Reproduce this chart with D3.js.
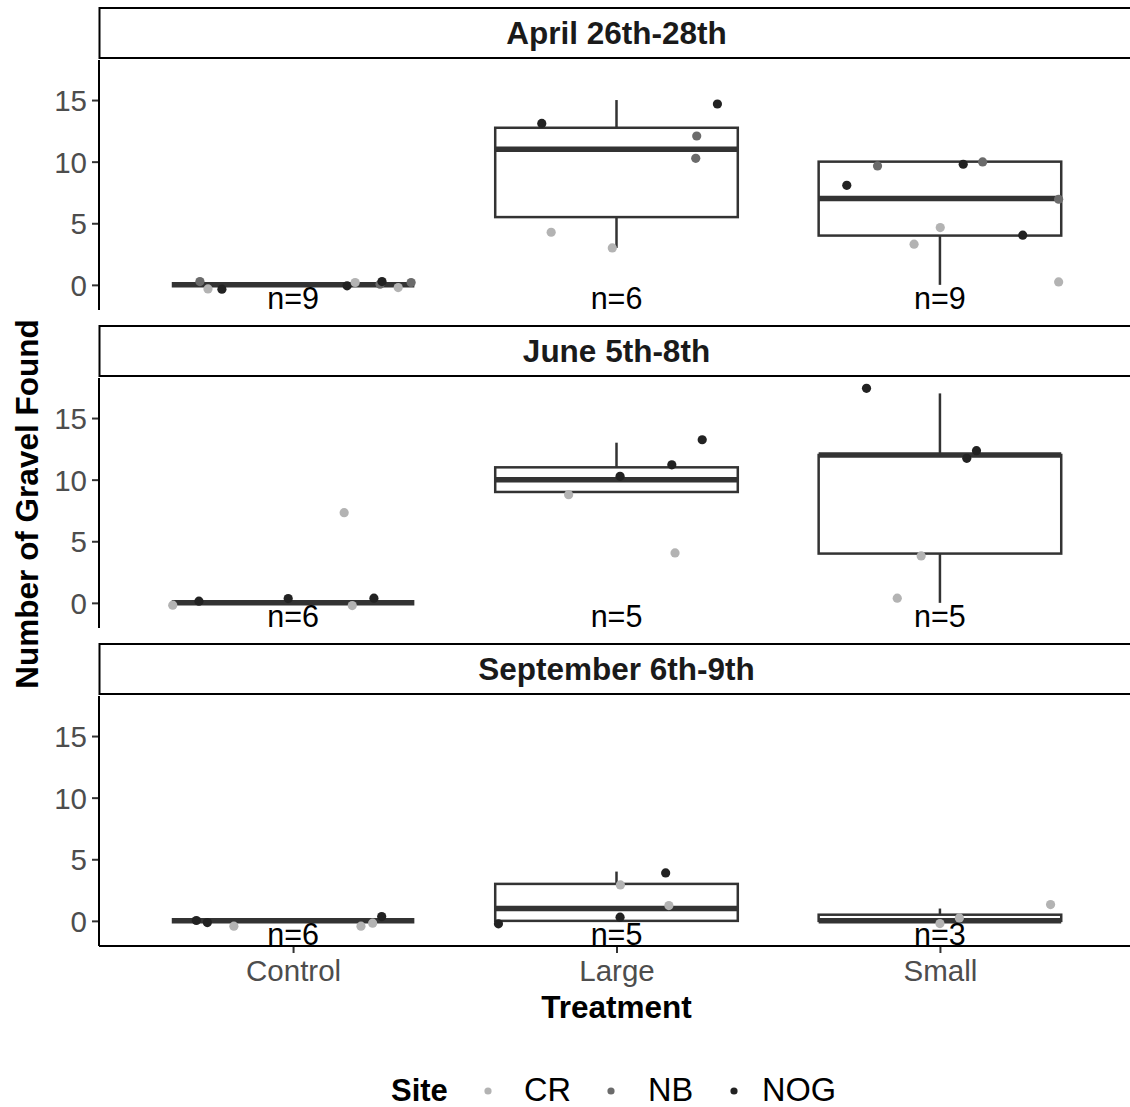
<!DOCTYPE html>
<html><head><meta charset="utf-8">
<script src="https://cdn.jsdelivr.net/npm/d3@7"></script>
<style>body{margin:0;background:#fff} svg{display:block} text{font-family:"Liberation Sans",Arial,Helvetica,sans-serif}</style>
</head><body><svg id="chart" width="1130" height="1107"></svg>
<script>
// ---------- data ----------
const facets = ["April 26th-28th", "June 5th-8th", "September 6th-9th"];
const treatments = ["Control", "Large", "Small"];
const sites = ["CR", "NB", "NOG"];
const yTicks = [0, 5, 10, 15];
const siteColors = ["#b3b3b3", "#6b6b6b", "#222222"];

// box statistics: [facet, treatment, lower whisker, q1, median, q3, upper whisker]
const boxStats = [
  [0, "Control", 0, 0, 0, 0, 0],
  [0, "Large", 3, 5.5, 11, 12.75, 15],
  [0, "Small", 0, 4, 7, 10, 10],
  [1, "Control", 0, 0, 0, 0, 0],
  [1, "Large", 9, 9, 10, 11, 13],
  [1, "Small", 0, 4, 12, 12, 17],
  [2, "Control", 0, 0, 0, 0, 0],
  [2, "Large", 0, 0, 1, 3, 4],
  [2, "Small", 0, 0, 0, 0.5, 1]
];

// jittered observations: [treatment, site, value, horizontal jitter (category units)]
const aprilPoints = [
  ["Control", "NB", 0.27, -0.288], ["Control", "CR", -0.33, -0.263], ["Control", "NOG", -0.35, -0.220],
  ["Control", "NOG", -0.08, 0.167], ["Control", "CR", 0.19, 0.192], ["Control", "NB", 0.05, 0.269],
  ["Control", "NOG", 0.27, 0.275], ["Control", "CR", -0.22, 0.325], ["Control", "NB", 0.19, 0.365],
  ["Large", "NOG", 13.1, -0.231], ["Large", "NB", 12.08, 0.248], ["Large", "NB", 10.27, 0.245],
  ["Large", "NOG", 14.68, 0.312], ["Large", "CR", 4.27, -0.202], ["Large", "CR", 3.0, -0.013],
  ["Small", "NOG", 8.08, -0.288], ["Small", "NB", 9.65, -0.193], ["Small", "NOG", 9.79, 0.072],
  ["Small", "NB", 9.98, 0.132], ["Small", "NB", 6.95, 0.367], ["Small", "CR", 4.65, 0.001],
  ["Small", "CR", 3.3, -0.080], ["Small", "NOG", 4.03, 0.256], ["Small", "CR", 0.24, 0.367]
];
const junePoints = [
  ["Control", "CR", -0.19, -0.372], ["Control", "NOG", 0.14, -0.291], ["Control", "NOG", 0.35, -0.015],
  ["Control", "CR", 7.32, 0.158], ["Control", "CR", -0.22, 0.183], ["Control", "NOG", 0.38, 0.250],
  ["Large", "NOG", 10.27, 0.011], ["Large", "NOG", 11.2, 0.171], ["Large", "NOG", 13.24, 0.265],
  ["Large", "CR", 8.78, -0.148], ["Large", "CR", 4.05, 0.181],
  ["Small", "NOG", 17.41, -0.227], ["Small", "NOG", 12.35, 0.113], ["Small", "NOG", 11.73, 0.083],
  ["Small", "CR", 3.81, -0.058], ["Small", "CR", 0.38, -0.132]
];
const septemberPoints = [
  ["Control", "NOG", 0.03, -0.299], ["Control", "NOG", -0.14, -0.265], ["Control", "CR", -0.43, -0.183],
  ["Control", "CR", -0.43, 0.210], ["Control", "CR", -0.19, 0.246], ["Control", "NOG", 0.35, 0.274],
  ["Large", "NOG", -0.24, -0.365], ["Large", "NOG", 0.30, 0.011], ["Large", "CR", 2.92, 0.012],
  ["Large", "NOG", 3.89, 0.152], ["Large", "CR", 1.24, 0.162],
  ["Small", "CR", -0.22, 0.0], ["Small", "CR", 0.24, 0.060], ["Small", "CR", 1.32, 0.342]
];
const panelPoints = [aprilPoints, junePoints, septemberPoints];

// ---------- layout ----------
const svg = d3.select("#chart");
const left = 99, right = 1134;
const panelTop0 = 60, pitch = 318, panelH = 250, stripH = 50;
const font = '"Liberation Sans",Arial,Helvetica,sans-serif';
const boxColor = "#333333";

const x = d3.scaleLinear().domain([0.4, 3.6]).range([left, right]);
const xCat = t => x(treatments.indexOf(t) + 1);
const boxHalf = 0.375;
const siteColor = d3.scaleOrdinal().domain(sites).range(siteColors);

facets.forEach((facet, fi) => {
  const top = panelTop0 + fi * pitch;
  const y = d3.scaleLinear().domain([-2.04, 18.25]).range([top + panelH, top]);
  const g = svg.append("g");

  // strip
  g.append("rect").attr("x", left + 0.5).attr("y", top - stripH - 2)
    .attr("width", right - left + 20).attr("height", stripH)
    .attr("fill", "#fff").attr("stroke", "#000").attr("stroke-width", 2);
  g.append("text").attr("x", (left + right) / 2).attr("y", top - 2 - stripH / 2)
    .attr("dy", "0.36em").attr("text-anchor", "middle")
    .attr("font-size", 31.5).attr("font-weight", "bold").attr("fill", "#1a1a1a").text(facet);

  // y axis
  const yAxis = d3.axisLeft(y).tickValues(yTicks).tickSize(7).tickPadding(5);
  const ya = g.append("g").attr("transform", `translate(${left},0)`).call(yAxis);
  ya.select(".domain").remove();
  ya.selectAll(".tick line").attr("stroke", "#333").attr("stroke-width", 2);
  ya.selectAll(".tick text").attr("font-size", 29.5).attr("fill", "#4d4d4d")
    .attr("font-family", font).attr("dy", "0.36em");
  g.append("line").attr("x1", left).attr("x2", left).attr("y1", top).attr("y2", top + panelH)
    .attr("stroke", "#000").attr("stroke-width", 2);

  // boxes
  const stats = boxStats.filter(b => b[0] === fi);
  stats.forEach(b => {
    const [, t, lo, q1, med, q3, hi] = b;
    const cx = xCat(t);
    const x0 = x(treatments.indexOf(t) + 1 - boxHalf), x1 = x(treatments.indexOf(t) + 1 + boxHalf);
    if (hi > q3) g.append("line").attr("x1", cx).attr("x2", cx).attr("y1", y(q3)).attr("y2", y(hi))
      .attr("stroke", boxColor).attr("stroke-width", 2.5);
    if (lo < q1) g.append("line").attr("x1", cx).attr("x2", cx).attr("y1", y(q1)).attr("y2", y(lo))
      .attr("stroke", boxColor).attr("stroke-width", 2.5);
    g.append("rect").attr("x", x0).attr("y", y(q3)).attr("width", x1 - x0)
      .attr("height", Math.max(0, y(q1) - y(q3)))
      .attr("fill", "#fff").attr("stroke", boxColor).attr("stroke-width", 2.5);
    g.append("line").attr("x1", x0).attr("x2", x1).attr("y1", y(med)).attr("y2", y(med))
      .attr("stroke", boxColor).attr("stroke-width", 5.5).attr("stroke-linecap", "butt");
  });

  // points
  const pts = panelPoints[fi];
  g.selectAll("circle.pt").data(pts).join("circle").attr("class", "pt")
    .attr("cx", d => x(treatments.indexOf(d[0]) + 1 + d[3]))
    .attr("cy", d => y(d[2])).attr("r", 4.6)
    .attr("fill", d => siteColor(d[1]));

  // n labels
  treatments.forEach(t => {
    const n = pts.filter(p => p[0] === t).length;
    g.append("text").attr("x", xCat(t)).attr("y", y(-1.98)).attr("text-anchor", "middle")
      .attr("font-size", 30.5).attr("fill", "#000").text("n=" + n);
  });

  // x axis on bottom panel
  if (fi === facets.length - 1) {
    const xAxis = d3.axisBottom(x).tickValues([1, 2, 3]).tickFormat(d => treatments[d - 1])
      .tickSize(7).tickPadding(5);
    const xa = g.append("g").attr("transform", `translate(0,${top + panelH})`).call(xAxis);
    xa.select(".domain").remove();
    xa.selectAll(".tick line").attr("stroke", "#333").attr("stroke-width", 2);
    xa.selectAll(".tick text").attr("font-size", 29.5).attr("fill", "#4d4d4d")
      .attr("font-family", font).attr("dy", "0.78em");
    g.append("line").attr("x1", left).attr("x2", right).attr("y1", top + panelH).attr("y2", top + panelH)
      .attr("stroke", "#000").attr("stroke-width", 2);
  }
});

// axis titles
svg.append("text").attr("x", (left + right) / 2).attr("y", 1018).attr("text-anchor", "middle")
  .attr("font-size", 31.5).attr("font-weight", "bold").attr("fill", "#000").text("Treatment");
svg.append("text").attr("transform", "translate(38,504) rotate(-90)").attr("text-anchor", "middle")
  .attr("font-size", 31.5).attr("font-weight", "bold").attr("fill", "#000").text("Number of Gravel Found");

// legend
const lg = svg.append("g");
lg.append("text").attr("x", 391).attr("y", 1101).attr("font-size", 31).attr("font-weight", "bold")
  .attr("fill", "#000").text("Site");
const legDotX = [488, 611, 734];
const legTextX = [524, 648, 762];
sites.forEach((s, i) => {
  lg.append("circle").attr("cx", legDotX[i]).attr("cy", 1091).attr("r", 3.6).attr("fill", siteColor(s));
  lg.append("text").attr("x", legTextX[i]).attr("y", 1101).attr("font-size", 32.5).attr("fill", "#000").text(s);
});
</script></body></html>
